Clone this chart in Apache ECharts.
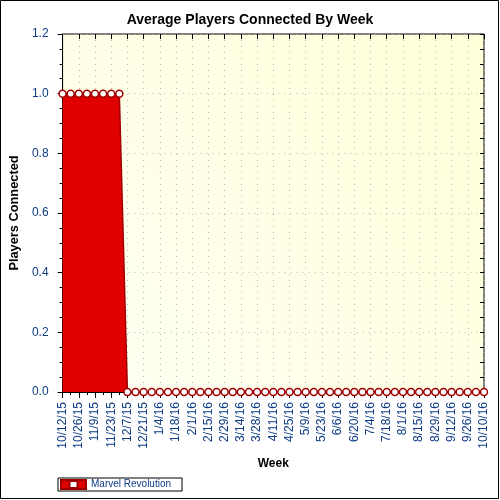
<!DOCTYPE html>
<html>
<head>
<meta charset="utf-8">
<script src="https://cdn.jsdelivr.net/npm/echarts@6/dist/echarts.min.js"></script>
<style>html,body{margin:0;padding:0;background:#fff}#c{width:500px;height:500px}</style>
</head>
<body>
<div id="c"></div>
<script>
var weeks = ['10/12/15','10/19/15','10/26/15','11/2/15','11/9/15','11/16/15','11/23/15','11/30/15',
'12/7/15','12/14/15','12/21/15','12/28/15','1/4/16','1/11/16','1/18/16','1/25/16','2/1/16','2/8/16',
'2/15/16','2/22/16','2/29/16','3/7/16','3/14/16','3/21/16','3/28/16','4/4/16','4/11/16','4/18/16',
'4/25/16','5/2/16','5/9/16','5/16/16','5/23/16','5/30/16','6/6/16','6/13/16','6/20/16','6/27/16',
'7/4/16','7/11/16','7/18/16','7/25/16','8/1/16','8/8/16','8/15/16','8/22/16','8/29/16','9/5/16',
'9/12/16','9/19/16','9/26/16','10/3/16','10/10/16'];
var marvelRevolution = [1,1,1,1,1,1,1,1,
0,0,0,0,0,0,0,0,0,0,0,0,0,0,0,0,0,0,0,0,0,0,0,0,0,0,0,0,0,0,0,0,0,0,0,0,0,0,0,0,0,0,0,0,0];
var seriesName = 'Marvel Revolution';
var yTicks = [0, 0.2, 0.4, 0.6, 0.8, 1.0, 1.2];

var font = 'Liberation Sans, Arial, sans-serif';
var labelColor = '#0d3b85';
var chart = echarts.init(document.getElementById('c'));
chart.setOption({
  animation: false,
  backgroundColor: '#ffffff',
  title: {
    text: 'Average Players Connected By Week',
    left: 'center', top: 8,
    textStyle: {fontFamily: font, fontSize: 14, fontWeight: 'bold', color: '#000'}
  },
  graphic: [{
    type: 'rect', silent: true, z: 100,
    shape: {x: 0.5, y: 0.5, width: 498, height: 498},
    style: {fill: 'none', stroke: '#000', lineWidth: 1}
  }],
  legend: {
    left: 58, top: 478,
    orient: 'horizontal',
    backgroundColor: '#fff',
    borderColor: '#000', borderWidth: 1,
    padding: [1, 11, 1, 2],
    itemWidth: 25, itemHeight: 9, itemGap: 6,
    textStyle: {fontFamily: font, fontSize: 10, color: labelColor},
    data: [{name: seriesName, icon: 'path://M0,0H25V9H0Z M8.5,1V8H16.5V1Z', itemStyle: {color: '#e00000'}}]
  },
  grid: {
    left: 59, right: 16, top: 34, bottom: 108,
    show: true,
    borderColor: '#000', borderWidth: 1,
    backgroundColor: new echarts.graphic.LinearGradient(0, 1, 1, 0, [
      {offset: 0, color: '#fffff4'},
      {offset: 1, color: '#ffffd8'}
    ])
  },
  xAxis: [{
    type: 'category', data: weeks, boundaryGap: false, position: 'bottom',
    name: 'Week', nameLocation: 'middle', nameGap: 66,
    nameTextStyle: {fontFamily: font, fontSize: 12, fontWeight: 'bold', color: '#000'},
    axisLine: {lineStyle: {color: '#000', width: 1}},
    axisTick: {show: true, interval: 1, length: 6, lineStyle: {color: '#000'}},
    axisLabel: {interval: 1, rotate: 90, margin: 10, fontFamily: font, fontSize: 12, color: labelColor},
    splitLine: {show: true, interval: 1, lineStyle: {color: '#b8b8b8', type: [1, 5], width: 1}}
  }, {
    type: 'category', data: weeks, boundaryGap: false, position: 'bottom',
    axisLine: {show: false},
    axisTick: {show: true, interval: 0, length: 3, lineStyle: {color: '#000'}},
    axisLabel: {show: false}, splitLine: {show: false}
  }, {
    type: 'category', data: weeks, boundaryGap: false, position: 'top',
    axisLine: {show: false},
    axisTick: {show: true, inside: true, interval: 1, length: 5, lineStyle: {color: '#000'}},
    axisLabel: {show: false}, splitLine: {show: false}
  }],
  yAxis: [{
    type: 'value', min: 0, max: 1.2, interval: 0.2, position: 'left',
    name: 'Players Connected', nameLocation: 'middle', nameGap: 33,
    nameTextStyle: {fontFamily: font, fontSize: 12.8, fontWeight: 'bold', color: '#000'},
    axisLine: {show: true, lineStyle: {color: '#000', width: 1}},
    axisTick: {show: true, length: 5, lineStyle: {color: '#000'}},
    minorTick: {show: true, splitNumber: 4, length: 3, lineStyle: {color: '#000'}},
    axisLabel: {margin: 14, fontFamily: font, fontSize: 12, color: labelColor,
      formatter: function (v) { return v.toFixed(1); }},
    splitLine: {show: true, lineStyle: {color: '#b8b8b8', type: [1, 5], width: 1}}
  }, {
    type: 'value', min: 0, max: 1.2, interval: 0.05, position: 'right',
    axisLine: {show: false},
    axisTick: {show: true, inside: true, length: 4, lineStyle: {color: '#000'}},
    axisLabel: {show: false}, splitLine: {show: false}
  }],
  series: [{
    name: seriesName, type: 'line', xAxisIndex: 0, yAxisIndex: 0,
    data: marvelRevolution,
    symbol: 'circle', symbolSize: 7, showAllSymbol: true,
    itemStyle: {color: '#ffffff', borderColor: '#a00000', borderWidth: 1.5},
    lineStyle: {color: '#a00000', width: 1.5},
    areaStyle: {color: '#e00000', opacity: 1},
    clip: false
  }]
});
</script>
</body>
</html>
